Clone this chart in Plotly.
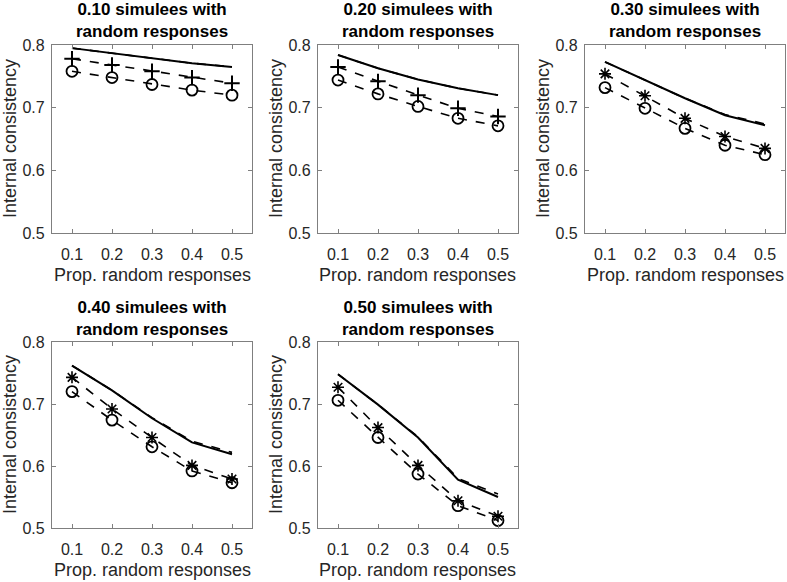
import plotly.graph_objects as go

x_vals = [0.1, 0.2, 0.3, 0.4, 0.5]
panel_titles = ["0.10 simulees with<br>random responses",
                "0.20 simulees with<br>random responses",
                "0.30 simulees with<br>random responses",
                "0.40 simulees with<br>random responses",
                "0.50 simulees with<br>random responses"]

# solid line series
solid = [
    [0.795, 0.787, 0.779, 0.771, 0.765],
    [0.784, 0.763, 0.745, 0.731, 0.720],
    [0.773, 0.744, 0.715, 0.688, 0.672],
    [0.762, 0.722, 0.677, 0.638, 0.619],
    [0.748, 0.699, 0.646, 0.578, 0.550],
]
# dashed line without markers (near solid)
dashed_plain = [
    [0.795, 0.787, 0.779, 0.771, 0.765],
    [0.784, 0.763, 0.745, 0.731, 0.720],
    [0.773, 0.744, 0.715, 0.689, 0.674],
    [0.762, 0.722, 0.678, 0.640, 0.622],
    [0.748, 0.699, 0.647, 0.580, 0.555],
]
# dashed line with + / * markers
plus_series = [
    [0.778, 0.768, 0.758, 0.748, 0.739],
    [0.765, 0.742, 0.720, 0.699, 0.686],
    [0.754, 0.719, 0.683, 0.654, 0.635],
    [0.743, 0.692, 0.646, 0.601, 0.579],
    [0.727, 0.662, 0.601, 0.544, 0.519],
]
# dashed line with o markers
circle_series = [
    [0.758, 0.748, 0.737, 0.728, 0.720],
    [0.744, 0.722, 0.702, 0.683, 0.671],
    [0.732, 0.699, 0.667, 0.640, 0.625],
    [0.720, 0.674, 0.631, 0.592, 0.573],
    [0.706, 0.646, 0.587, 0.536, 0.512],
]
plus_symbols = ["cross-thin-open", "cross-thin-open", "asterisk-open", "asterisk-open", "asterisk-open"]

y_ticks = [0.5, 0.6, 0.7, 0.8]
x_range = [0.05, 0.55]
y_range = [0.5, 0.8]

W, H = 787, 582
# plot area boxes in pixels: (left, right, top, bottom)
boxes = [
    (52, 252, 45, 233),
    (318, 518, 45, 233),
    (585, 785, 45, 233),
    (52, 252, 342, 528),
    (318, 518, 342, 528),
]

fig = go.Figure()
FONT = "Liberation Sans, Arial, sans-serif"
annotations = []
for i in range(5):
    l, r, t, b = boxes[i]
    xa = "xaxis" if i == 0 else f"xaxis{i+1}"
    ya = "yaxis" if i == 0 else f"yaxis{i+1}"
    xref = "x" if i == 0 else f"x{i+1}"
    yref = "y" if i == 0 else f"y{i+1}"
    fig.add_trace(go.Scatter(x=x_vals, y=dashed_plain[i], mode="lines",
                             line=dict(color="black", width=1.6, dash="dash"),
                             xaxis=xref, yaxis=yref, showlegend=False))
    fig.add_trace(go.Scatter(x=x_vals, y=solid[i], mode="lines",
                             line=dict(color="black", width=2),
                             xaxis=xref, yaxis=yref, showlegend=False))
    sym = plus_symbols[i]
    fig.add_trace(go.Scatter(x=x_vals, y=plus_series[i], mode="lines+markers",
                             line=dict(color="black", width=1.6, dash="dash"),
                             marker=dict(symbol=sym, size=11 if "cross" in sym else 10,
                                         color="black",
                                         line=dict(color="black", width=2 if "cross" in sym else 1.6)),
                             xaxis=xref, yaxis=yref, showlegend=False))
    fig.add_trace(go.Scatter(x=x_vals, y=circle_series[i], mode="lines+markers",
                             line=dict(color="black", width=1.6, dash="dash"),
                             marker=dict(symbol="circle-open", size=11, color="black",
                                         line=dict(color="black", width=1.8)),
                             xaxis=xref, yaxis=yref, showlegend=False))
    common = dict(showline=True, linecolor="#7f7f7f", linewidth=1.2, mirror="ticks",
                  ticks="inside", ticklen=4, tickcolor="#7f7f7f", showgrid=False,
                  zeroline=False, fixedrange=True, automargin=False,
                  tickfont=dict(family=FONT, size=16, color="#262626"))
    fig.update_layout({
        xa: dict(domain=[l / W, r / W], range=x_range, tickvals=x_vals,
                 ticktext=[f"{v:.1f}" for v in x_vals], anchor=yref,
                 ticklabelstandoff=7, **common),
        ya: dict(domain=[(H - b) / H, (H - t) / H], range=y_range, tickvals=y_ticks,
                 ticktext=[f"{v:.1f}" for v in y_ticks], anchor=xref,
                 ticklabelstandoff=3, **common),
    })
    cx = (l + r) / 2 / W
    annotations.append(dict(text="<b>" + panel_titles[i] + "</b>", x=cx, y=(H - (t - 24)) / H,
                            xref="paper", yref="paper", xanchor="center", yanchor="middle",
                            showarrow=False, font=dict(family=FONT, size=17, color="black")))
    annotations.append(dict(text="Prop. random responses", x=cx, y=(H - b - 42) / H,
                            xref="paper", yref="paper", xanchor="center", yanchor="middle",
                            showarrow=False, font=dict(family=FONT, size=18, color="#262626")))
    annotations.append(dict(text="Internal consistency", x=(l - 42) / W, y=(H - (t + b) / 2) / H,
                            xref="paper", yref="paper", xanchor="center", yanchor="middle",
                            textangle=-90, showarrow=False,
                            font=dict(family=FONT, size=18, color="#262626")))

fig.update_layout(width=W, height=H, margin=dict(l=0, r=0, t=0, b=0, pad=0),
                  template="none",
                  paper_bgcolor="white", plot_bgcolor="white",
                  annotations=annotations)
fig.write_html("out.html", config={"displayModeBar": False},
               post_script="document.body.style.margin='0';document.body.style.overflow='hidden';")
